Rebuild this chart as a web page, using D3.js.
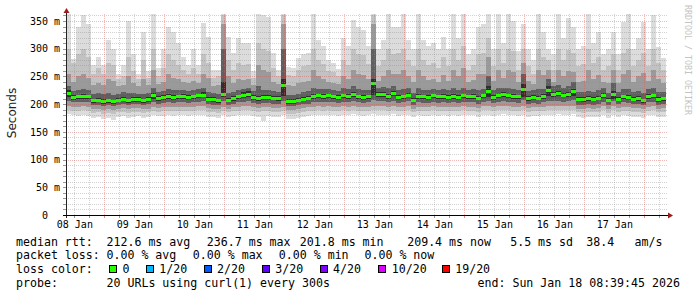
<!DOCTYPE html>
<html><head><meta charset="utf-8">
<script src="https://cdn.jsdelivr.net/npm/d3@7"></script>
<style>html,body{margin:0;padding:0;background:#fff}svg{display:block}</style>
</head><body><svg id="c" width="697" height="297"></svg>
<script>
// ---- data (2-hour bins starting Jan 8 08:39:45, 10 days) ----
const startTime = Date.UTC(2026, 0, 8, 8, 39, 45);
const endTime = Date.UTC(2026, 0, 18, 8, 39, 45);
const binHours = 2;

const median = [
 220,212,213,214,213,206,207,205,206,204,
 207,209,206,208,208,206,208,215,210,212,
 214,212,213,214,212,213,215,216,209,208,
 206,217,207,210,213,216,218,212,210,212,
 212,211,210,233,205,205,207,209,211,214,
 215,214,215,213,212,215,214,217,213,212,
 213,236.7,218,218,214,219,212,213,216,207,
 214,213,212,215,213,214,212,214,212,215,
 213,214,211,215,222,212,215,217,215,214,
 213,226,210,212,211,214,224,218,220,216,
 218,222,209,208,210,209,211,216,207,218,
 209,213,212,209,210,206,214,215,208,209.4];

const pMax = [
 362,282,340,360,345,270,285,270,315,300,
 255,270,350,290,255,330,260,362,265,300,
 340,330,310,285,270,300,270,346,322,262,
 262,362,322,292,320,310,310,260,362,360,
 358,292,262,362,267,265,283,290,292,362,
 315,305,280,275,263,320,305,352,340,334,
 305,362,300,315,362,340,340,362,315,300,
 362,315,305,310,300,322,300,362,320,362,
 290,300,340,345,362,300,362,310,362,350,
 295,345,300,280,362,330,300,290,362,320,
 355,340,300,305,362,310,330,290,300,330,
 290,348,362,300,320,348,300,361,303,283];

const p90 = [
 300,275,290,300,285,255,265,255,275,270,
 245,250,285,260,245,280,248,300,250,265,
 290,280,270,262,255,265,255,290,275,248,
 250,360,280,262,275,270,272,248,310,300,
 295,265,250,360,252,250,262,268,270,300,
 280,272,260,258,250,280,270,300,290,288,
 272,360,268,280,300,290,292,300,280,268,
 300,280,270,275,265,285,268,300,280,305,
 262,270,290,292,320,268,300,275,300,295,
 262,300,268,255,300,285,280,262,300,280,
 298,292,268,272,300,275,285,262,268,290,
 262,292,300,268,280,292,268,300,275,262];

const p75 = [
 255,240,250,255,248,235,238,235,245,242,
 232,235,250,238,232,245,235,262,236,240,
 255,248,245,240,238,242,238,255,248,232,
 234,345,250,238,245,244,245,235,270,262,
 258,240,236,345,235,232,238,240,242,262,
 250,245,240,238,236,250,245,262,255,252,
 245,345,242,250,262,255,255,262,250,240,
 262,250,244,246,240,252,242,262,250,265,
 240,244,255,255,285,242,262,248,262,258,
 240,275,242,236,262,252,262,240,262,250,
 260,258,240,242,262,246,252,240,238,262,
 238,255,262,240,250,256,242,262,245,238];

const p60 = [
 232,224,226,228,226,218,220,218,220,217,
 219,221,220,220,219,218,220,230,222,224,
 228,225,226,226,224,225,227,230,222,220,
 218,300,220,222,226,228,230,224,232,226,
 226,224,222,300,217,217,219,222,224,230,
 228,227,228,225,224,229,227,232,228,226,
 226,300,230,231,230,233,226,228,230,220,
 230,226,225,228,225,228,225,230,226,230,
 226,227,226,228,250,225,230,230,230,228,
 226,255,223,225,228,228,245,232,234,230,
 232,240,222,221,224,222,225,230,220,238,
 222,227,228,222,224,220,228,230,222,222];

const p55 = [
 226,216,217,218,217,210,211,209,210,208,
 211,213,210,212,212,210,212,220,214,216,
 219,216,217,218,216,217,219,221,213,212,
 210,240,211,214,217,221,223,216,214,216,
 216,215,214,245,209,209,211,213,215,218,
 219,218,219,217,216,219,218,222,217,216,
 217,245,222,222,218,224,216,217,220,211,
 218,217,216,219,217,218,216,218,216,219,
 217,218,215,219,232,216,219,221,219,218,
 217,236,214,216,215,218,232,222,224,220,
 222,228,213,212,214,213,215,220,211,224,
 213,217,216,213,214,210,218,219,212,213];

const p45 = [
 213,208,209,210,209,202,203,201,202,200,
 203,205,202,204,204,202,204,210,206,208,
 210,208,209,210,208,209,211,212,205,204,
 202,212,203,206,209,211,213,208,206,208,
 208,207,206,214,201,201,203,205,207,210,
 211,210,211,209,208,211,210,213,209,208,
 209,216,213,213,210,214,208,209,212,203,
 210,209,208,211,209,210,208,210,208,211,
 209,210,207,211,213,208,211,212,211,210,
 209,212,206,208,207,210,214,213,215,212,
 213,214,205,204,206,205,207,211,203,210,
 205,209,208,205,206,202,210,211,204,205];

const p40 = [
 206,203,203,204,203,198,199,197,198,196,
 199,200,198,200,200,198,200,204,201,202,
 203,202,203,203,202,203,204,205,200,199,
 198,205,199,201,203,204,205,202,201,202,
 202,201,200,206,197,197,198,200,201,203,
 204,203,204,203,202,204,203,205,203,202,
 203,208,205,205,203,206,202,203,205,199,
 203,202,202,204,202,203,202,203,202,204,
 203,203,201,204,206,202,204,205,204,203,
 202,207,200,202,201,203,206,205,206,204,
 205,207,199,198,200,199,201,204,198,206,
 200,203,202,200,201,198,203,204,199,200];

const p25 = [
 197,195,195,196,195,191,192,190,191,189,
 192,193,191,193,193,191,192,195,193,194,
 195,194,195,195,194,195,196,196,193,192,
 191,195,192,194,195,196,196,194,193,194,
 194,193,193,195,190,190,191,193,194,195,
 196,195,196,195,194,196,195,197,195,194,
 195,197,196,196,195,197,194,195,196,192,
 195,194,194,196,194,195,194,195,194,196,
 195,195,193,196,196,194,196,197,196,195,
 194,196,193,194,194,195,196,196,197,196,
 196,197,192,191,193,192,193,196,191,196,
 193,195,194,193,193,191,195,196,192,193];

const p10 = [
 190,188,188,189,187,184,185,183,184,182,
 185,186,184,186,186,184,185,188,186,187,
 188,187,188,188,187,188,189,189,186,185,
 184,188,185,187,188,189,189,187,186,187,
 187,186,186,188,183,183,184,186,187,188,
 189,188,189,188,187,189,188,190,188,187,
 188,190,189,189,188,190,187,188,189,185,
 188,187,187,189,187,188,187,188,187,189,
 188,188,186,189,189,187,189,190,189,188,
 187,189,186,187,187,188,189,189,190,189,
 189,190,185,184,186,185,186,189,184,189,
 186,188,187,186,186,184,188,189,185,186];

const pMin = [
 182,180,179,181,178,175,176,174,175,172,
 176,178,175,177,178,175,176,180,178,179,
 180,179,180,180,178,180,181,181,177,176,
 175,180,176,178,180,181,181,179,177,170,
 178,177,177,180,174,174,175,177,178,180,
 181,180,181,180,178,181,180,182,180,178,
 180,182,181,181,180,182,178,180,181,176,
 180,178,178,181,178,180,178,180,178,181,
 180,180,177,181,181,178,181,182,181,180,
 178,181,177,178,178,180,181,181,182,181,
 181,182,176,175,177,176,177,181,175,181,
 177,180,178,177,177,175,180,181,176,177];

const yMinorTicks = [10,20,30,40,60,70,80,90,110,120,130,140,160,170,180,190,210,220,230,240,260,270,280,290,310,320,330,340,360];
const yMajorTicks = [0,50,100,150,200,250,300,350];
const yTickLabels = ["0  ","50 m","100 m","150 m","200 m","250 m","300 m","350 m"];

const lossLabels = ["0","1/20","2/20","3/20","4/20","10/20","19/20"];
const lossColors = ["#26ff00","#00b8ff","#0059ff","#5e00ff","#7e00ff","#dd00ff","#ff0000"];

const rttLegend = ["212.6 ms avg","236.7 ms max","201.8 ms min","209.4 ms now","5.5 ms sd","38.4","am/s"];
const lossLegend = ["0.00 % avg","0.00 % max","0.00 % min","0.00 % now"];

// ---- layout ----
const svg = d3.select("#c");
const L = 66, R = 666, T = 14, B = 215;
const x = d3.scaleUtc().domain([startTime, endTime]).range([L, R]);
const y = d3.scaleLinear().domain([0, 362.6]).range([B, T]);
const mono = "'DejaVu Sans Mono', monospace";

const binStart = i => new Date(startTime + i * binHours * 3600e3);
const idx = d3.range(median.length);

// smoke layers (outer to inner)
const layers = [
  {lo: pMin, hi: pMax, color: "#dcdcdc"},
  {lo: p10, hi: p90, color: "#c2c2c2"},
  {lo: p25, hi: p75, color: "#9a9a9a"},
  {lo: p40, hi: p60, color: "#5f5f5f"},
  {lo: p45, hi: p55, color: "#2e2e2e"}
];
const gSmoke = svg.append("g").attr("shape-rendering", "crispEdges");
layers.forEach(layer => {
  gSmoke.append("g").selectAll("rect").data(idx).join("rect")
    .attr("x", i => x(binStart(i)))
    .attr("width", i => x(binStart(i + 1)) - x(binStart(i)))
    .attr("y", i => y(layer.hi[i]))
    .attr("height", i => y(layer.lo[i]) - y(layer.hi[i]))
    .attr("fill", layer.color);
});

// median marks
const swMs = 5.4;
svg.append("g").attr("shape-rendering", "crispEdges").selectAll("rect").data(idx).join("rect")
  .attr("x", i => x(binStart(i)))
  .attr("width", i => x(binStart(i + 1)) - x(binStart(i)))
  .attr("y", i => y(median[i] + swMs / 2))
  .attr("height", y(0) - y(swMs))
  .attr("fill", lossColors[0]);

// grid
const grid = svg.append("g").attr("shape-rendering", "crispEdges");
const minorCol = "rgba(143,143,143,0.4)", majorCol = "rgba(222,80,80,0.4)";
const hours6 = d3.utcHour.every(6).range(new Date(startTime), new Date(endTime)).filter(d => d.getUTCHours() !== 0);
const days = d3.utcDay.range(new Date(startTime), new Date(endTime));
grid.selectAll(".vmin").data(hours6).join("line")
  .attr("x1", d => Math.round(x(d)) + 0.5).attr("x2", d => Math.round(x(d)) + 0.5)
  .attr("y1", T).attr("y2", B).attr("stroke", minorCol).attr("stroke-dasharray", "1,1");
grid.selectAll(".hmin").data(yMinorTicks).join("line")
  .attr("x1", L).attr("x2", R + 2)
  .attr("y1", d => Math.round(y(d)) + 0.5).attr("y2", d => Math.round(y(d)) + 0.5)
  .attr("stroke", minorCol).attr("stroke-dasharray", "1,1");
grid.selectAll(".vmaj").data(days).join("line")
  .attr("x1", d => Math.round(x(d)) + 0.5).attr("x2", d => Math.round(x(d)) + 0.5)
  .attr("y1", T).attr("y2", B).attr("stroke", majorCol).attr("stroke-dasharray", "1,1");
grid.selectAll(".hmaj").data(yMajorTicks.slice(1)).join("line")
  .attr("x1", L).attr("x2", R + 2)
  .attr("y1", d => Math.round(y(d)) + 0.5).attr("y2", d => Math.round(y(d)) + 0.5)
  .attr("stroke", majorCol).attr("stroke-dasharray", "1,1");

// small ticks outside plot
grid.selectAll(".ytk").data(yMinorTicks.concat(yMajorTicks.slice(1))).join("line")
  .attr("x1", L - 3).attr("x2", L)
  .attr("y1", d => Math.round(y(d)) + 0.5).attr("y2", d => Math.round(y(d)) + 0.5)
  .attr("stroke", "#999");
grid.selectAll(".xtk").data(hours6.concat(days)).join("line")
  .attr("x1", d => Math.round(x(d)) + 0.5).attr("x2", d => Math.round(x(d)) + 0.5)
  .attr("y1", B).attr("y2", B + 3)
  .attr("stroke", d => d.getUTCHours() === 0 ? "#e09090" : "#999");

// axes lines
svg.append("line").attr("x1", L + 0.5).attr("x2", L + 0.5).attr("y1", 12).attr("y2", B + 3)
  .attr("stroke", "#222").attr("shape-rendering", "crispEdges");
svg.append("line").attr("x1", L - 3).attr("x2", R + 3).attr("y1", B + 0.5).attr("y2", B + 0.5)
  .attr("stroke", "#000").attr("shape-rendering", "crispEdges");
svg.append("path").attr("d", `M${L + 0.5},8 L${L + 3.5},13 L${L - 2.5},13 Z`).attr("fill", "#9b1c1c");
svg.append("path").attr("d", `M${R + 7},${B + 0.5} L${R + 2},${B - 2.5} L${R + 2},${B + 3.5} Z`).attr("fill", "#9b1c1c");

// axis labels via d3 axes
const yAxis = d3.axisLeft(y).tickValues(yMajorTicks).tickSize(0).tickPadding(0)
  .tickFormat((d, i) => yTickLabels[i]);
const gy = svg.append("g").attr("transform", "translate(60,0)").call(yAxis);
gy.select(".domain").remove();
gy.selectAll("text").attr("font-family", mono).attr("font-size", 10).attr("fill", "#000")
  .style("white-space", "pre");

const noons = days.map(d => d3.utcHour.offset(d, 12)).concat([d3.utcHour.offset(d3.utcDay.floor(new Date(startTime)), 12)])
  .filter(d => d >= startTime && d <= endTime).sort((a, b) => a - b);
const xAxis = d3.axisBottom(x).tickValues(noons).tickSize(0).tickPadding(6)
  .tickFormat(d3.utcFormat("%d %b"));
const gx = svg.append("g").attr("transform", `translate(0,${B})`).call(xAxis);
gx.select(".domain").remove();
gx.selectAll("text").attr("font-family", mono).attr("font-size", 10).attr("fill", "#000");

// y title
svg.append("text").attr("transform", "translate(15.5,113) rotate(-90)")
  .attr("text-anchor", "middle").attr("font-family", "'DejaVu Sans', sans-serif")
  .attr("font-size", 12).attr("fill", "#222").text("Seconds");

// watermark
svg.append("text").attr("transform", "translate(685,5) rotate(90)")
  .attr("font-family", mono).attr("font-size", 8.3).attr("fill", "#c4c4c4")
  .text("RRDTOOL / TOBI OETIKER");

// legend
const leg = svg.append("g").attr("font-family", mono).attr("font-size", 11.6).attr("fill", "#000")
  .style("white-space", "pre");
const rows = [245.5, 259.3, 273.3, 287.3];
leg.append("text").attr("x", 16).attr("y", rows[0]).text("median rtt:");
const rttX = [107, 207.3, 300.3, 407.7, 510.7, 586.7, 635];
rttLegend.forEach((t, i) => leg.append("text").attr("x", rttX[i] - 0.5).attr("y", rows[0]).text(t));
leg.append("text").attr("x", 16).attr("y", rows[1]).text("packet loss:");
const lossX = [107, 193.3, 279.3, 365];
lossLegend.forEach((t, i) => leg.append("text").attr("x", lossX[i] - 0.5).attr("y", rows[1]).text(t));
leg.append("text").attr("x", 16).attr("y", rows[2]).text("loss color:");
const boxX = [109, 145.7, 203.5, 261.7, 319.5, 378.3, 441.7];
lossLabels.forEach((t, i) => {
  leg.append("rect").attr("x", Math.round(boxX[i]) + 0.5).attr("y", 265.5).attr("width", 7).attr("height", 7)
    .attr("fill", lossColors[i]).attr("stroke", "#000");
  leg.append("text").attr("x", boxX[i] + 13.5).attr("y", rows[2]).text(t);
});
leg.append("text").attr("x", 16).attr("y", rows[3]).text("probe:");
leg.append("text").attr("x", 106.5).attr("y", rows[3]).text("20 URLs using curl(1) every 300s");
leg.append("text").attr("x", 477.5).attr("y", rows[3]).text("end: Sun Jan 18 08:39:45 2026");
</script></body></html>
